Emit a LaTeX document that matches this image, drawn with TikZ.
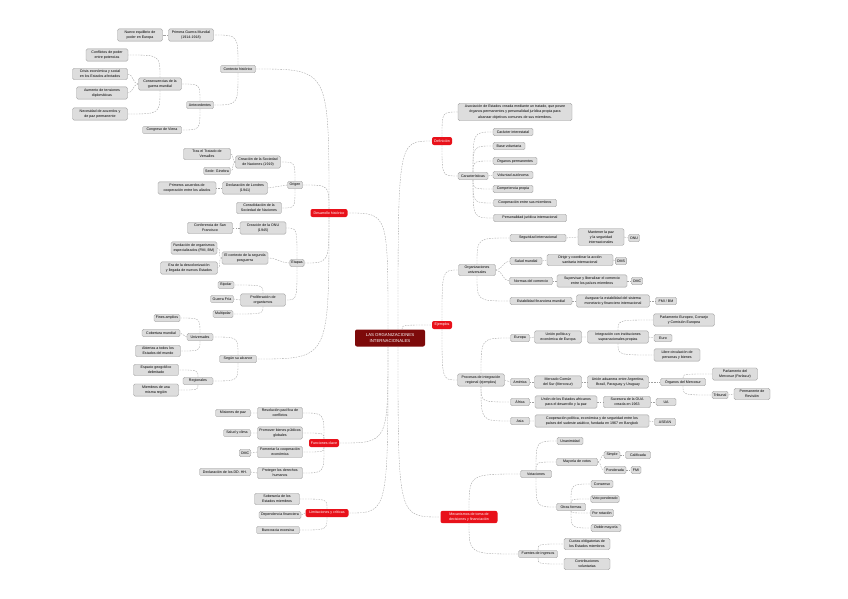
\documentclass[tikz,border=0pt]{standalone}
\usepackage{fontspec}
\setmainfont{Liberation Sans}
\definecolor{rojo}{HTML}{E8111A}
\definecolor{granate}{HTML}{7D0A0A}
\definecolor{fondogris}{HTML}{DDDDDD}
\definecolor{bordegris}{HTML}{9A9A9A}
\definecolor{linea}{HTML}{A0A0A0}
\begin{document}
\begin{tikzpicture}[x=1pt,y=-1pt,
    tema/.style={draw=bordegris, fill=fondogris, line width=0.35pt, rounded corners=1.5pt, align=center,
      inner xsep=1.5pt, inner ysep=1.8pt, minimum height=7.5pt, minimum width=#1, font=\fontsize{3.6}{5.2}\selectfont},
    tema/.default=20pt,
    rama/.style={fill=rojo, text=white, rounded corners=2pt, align=center, inner xsep=1.5pt, inner ysep=1.8pt,
      minimum height=8pt, minimum width=#1, font=\fontsize{3.6}{5.2}\selectfont},
    central/.style={fill=granate, text=white, rounded corners=2pt, align=center, minimum width=70pt,
      minimum height=17pt, font=\fontsize{4.3}{6.2}\selectfont},
    link/.style={draw=linea, line width=0.35pt, dash pattern=on 1.6pt off 1.1pt},
    curva/.style={to path={.. controls (\tikztostart |- \tikztotarget) .. (\tikztotarget)}}]
    \fill[white] (0,0) rectangle (848,599);
    \useasboundingbox (0,0) rectangle (848,599);

    \node[central] (centro) at (390,338) {LAS ORGANIZACIONES\\INTERNACIONALES};
    \node[rama=37pt] (hist) at (329,213) {Desarrollo histórico};
    \node[rama=20pt] (def) at (442,141) {Definición};
    \node[rama=20pt] (ejem) at (442,325) {Ejemplos};
    \node[rama=30pt] (func) at (324,443) {Funciones clave};
    \node[rama=43pt] (lim) at (327,513) {Limitaciones y críticas};
    \node[rama=57pt] (med) at (469,517) {Mecanismos de toma de\\decisiones y financiación};

    \coordinate (cn1) at ([xshift=-2pt]centro.north);
    \coordinate (cn2) at ([xshift=8pt]centro.north);
    \coordinate (cn3) at ([xshift=12pt]centro.north);
    \coordinate (cs1) at ([xshift=-2pt]centro.south);
    \coordinate (cs2) at ([xshift=8pt]centro.south);
    \draw[link] (cn1) to[curva] (hist.east);
    \draw[link] (cn2) to[curva] (def.west);
    \draw[link] (cn3) to[curva] (ejem.west);
    \draw[link] (cs1) to[curva] (func.east);
    \draw[link] (cs1) to[curva] (lim.east);
    \draw[link] (cs2) to[curva] (med.west);

    % desarrollo historico
    \node[tema=35pt] (h1) at (238,69) {Contexto histórico};
    \node[tema=45pt] (h1a) at (191,35) {Primera Guerra Mundial\\(1914-1918)};
    \node[tema=45pt] (h1a1) at (140,35) {Nuevo equilibrio de\\poder en Europa};
    \node[tema=27pt] (h1b) at (200,105) {Antecedentes};
    \node[tema=43pt] (h1b1) at (160,84) {Consecuencias de la\\guerra mundial};
    \node[tema=42pt] (k1) at (107,55) {Conflictos de poder\\entre potencias};
    \node[tema=55pt] (k2) at (100,74) {Crisis económica y social\\en los Estados afectados};
    \node[tema=51pt] (k3) at (102,93) {Aumento de tensiones\\diplomáticas};
    \node[tema=55pt] (k4) at (100,114) {Necesidad de acuerdos y\\de paz permanente};
    \node[tema=39pt] (h1b2) at (162,130) {Congreso de Viena};
    \node[tema=15pt] (h2) at (295,185) {Origen};
    \node[tema=45pt] (h2a) at (258,162) {Creación de la Sociedad\\de Naciones (1919)};
    \node[tema=47pt] (h2a1) at (207,154) {Tras el Tratado de\\Versalles};
    \node[tema=25pt] (h2a2) at (217,171) {Sede: Ginebra};
    \node[tema=45pt] (h2b) at (245,188) {Declaración de Londres\\(1941)};
    \node[tema=58pt] (h2b1) at (187,188) {Primeros acuerdos de\\cooperación entre los aliados};
    \node[tema=45pt] (h2c) at (259,208) {Consolidación de la\\Sociedad de Naciones};
    \node[tema=13pt] (h3) at (297,263) {Etapas};
    \node[tema=46pt] (h3a) at (263,228) {Creación de la ONU\\(1945)};
    \node[tema=45pt] (h3a1) at (210,228) {Conferencia de San\\Francisco};
    \node[tema=46pt] (h3b) at (245,258) {El contexto de la segunda\\posguerra};
    \node[tema=46pt] (h3b1) at (194,248) {Fundación de organismos\\especializados (FMI, BM)};
    \node[tema=57pt] (h3b2) at (189,268) {Era de la descolonización\\y llegada de nuevos Estados};
    \node[tema=45pt] (h3c) at (263,300) {Proliferación de\\organismos};
    \node[tema=16pt] (h3c1) at (226,285) {Bipolar};
    \node[tema=23pt] (h3c2) at (222,299) {Guerra Fría};
    \node[tema=20pt] (h3c3) at (223,314) {Multipolar};
    \node[tema=37pt] (h4) at (238,359) {Según su alcance};
    \node[tema=26pt] (h4a) at (200,337) {Universales};
    \node[tema=26pt] (h4a1) at (167,318) {Fines amplios};
    \node[tema=38pt] (h4a2) at (161,333) {Cobertura mundial};
    \node[tema=45pt] (h4a3) at (158,351) {Abiertas a todos los\\Estados del mundo};
    \node[tema=30pt] (h4b) at (198,381) {Regionales};
    \node[tema=45pt] (h4b1) at (156,370) {Espacio geográfico\\delimitado};
    \node[tema=45pt] (h4b2) at (156,390) {Miembros de una\\misma región};

    \draw[link] (hist.north) to[curva] (h1.east);
    \draw[link] (hist.north) to[curva] (h2.east);
    \draw[link] (hist.south) to[curva] (h3.east);
    \draw[link] (hist.south) to[curva] (h4.east);
    \draw[link] (h1.north) to[curva] (h1a.east);
    \draw[link] (h1a.west) -- (h1a1.east);
    \draw[link] (h1.south) to[curva] (h1b.east);
    \draw[link] (h1b.north) to[curva] (h1b1.east);
    \draw[link] (h1b.south) to[curva] (h1b2.east);
    \draw[link] (h1b1.north) to[curva] (k1.east);
    \draw[link] (h1b1.west) to[out=180,in=0] (k2.east);
    \draw[link] (h1b1.west) to[out=180,in=0] (k3.east);
    \draw[link] (h1b1.south) to[curva] (k4.east);
    \draw[link] (h2.north) to[curva] (h2a.east);
    \draw[link] (h2.west) -- (h2b.east);
    \draw[link] (h2.south) to[curva] (h2c.east);
    \draw[link] (h2a.west) to[out=180,in=0] (h2a1.east);
    \draw[link] (h2a.west) to[out=180,in=0] (h2a2.east);
    \draw[link] (h2b.west) -- (h2b1.east);
    \draw[link] (h3.north) to[curva] (h3a.east);
    \draw[link] (h3.west) to[out=180,in=0] (h3b.east);
    \draw[link] (h3.south) to[curva] (h3c.east);
    \draw[link] (h3a.west) -- (h3a1.east);
    \draw[link] (h3b.west) to[out=180,in=0] (h3b1.east);
    \draw[link] (h3b.west) to[out=180,in=0] (h3b2.east);
    \draw[link] (h3c.north) to[curva] (h3c1.east);
    \draw[link] (h3c.west) -- (h3c2.east);
    \draw[link] (h3c.south) to[curva] (h3c3.east);
    \draw[link] (h4.north) to[curva] (h4a.east);
    \draw[link] (h4.south) to[curva] (h4b.east);
    \draw[link] (h4a.north) to[curva] (h4a1.east);
    \draw[link] (h4a.west) -- (h4a2.east);
    \draw[link] (h4a.south) to[curva] (h4a3.east);
    \draw[link] (h4b.north) to[curva] (h4b1.east);
    \draw[link] (h4b.south) to[curva] (h4b2.east);

    % funciones y limitaciones
    \node[tema=45pt] (f1) at (280,413) {Resolución pacífica de\\conflictos};
    \node[tema=35pt] (f1a) at (233,413) {Misiones de paz};
    \node[tema=45pt] (f2) at (280,433) {Promover bienes públicos\\globales};
    \node[tema=27pt] (f2a) at (237,433) {Salud y clima};
    \node[tema=45pt] (f3) at (280,452) {Fomentar la cooperación\\económica};
    \node[tema=10pt] (f3a) at (245,453) {OMC};
    \node[tema=45pt] (f4) at (280,473) {Proteger los derechos\\humanos};
    \node[tema=51pt] (f4a) at (225,472) {Declaración de los DD. HH.};
    \node[tema=45pt] (l1) at (277,499) {Soberanía de los\\Estados miembros};
    \node[tema=42pt] (l2) at (280,515) {Dependencia financiera};
    \node[tema=43pt] (l3) at (278,530) {Burocracia excesiva};

    \draw[link] (func.north) to[curva] (f1.east);
    \draw[link] (func.north) to[curva] (f2.east);
    \draw[link] (func.south) to[curva] (f3.east);
    \draw[link] (func.south) to[curva] (f4.east);
    \draw[link] (f1.west) -- (f1a.east) (f2.west) -- (f2a.east) (f3.west) -- (f3a.east) (f4.west) -- (f4a.east);
    \draw[link] (lim.north) to[curva] (l1.east);
    \draw[link] (lim.west) -- (l2.east);
    \draw[link] (lim.south) to[curva] (l3.east);

    % definicion
    \node[tema=114pt] (d1) at (515,112) {Asociación de Estados creada mediante un tratado, que posee\\órganos permanentes y personalidad jurídica propia para\\alcanzar objetivos comunes de sus miembros.};
    \node[tema=30pt] (d2) at (473,176) {Características};
    \node[tema=40pt] (c1) at (513,132) {Carácter interestatal};
    \node[tema=32pt] (c2) at (509,146) {Base voluntaria};
    \node[tema=44pt] (c3) at (515,161) {Órganos permanentes};
    \node[tema=40pt] (c4) at (513,175) {Voluntad autónoma};
    \node[tema=40pt] (c5) at (513,189) {Competencia propia};
    \node[tema=63pt] (c6) at (525,203) {Cooperación entre sus miembros};
    \node[tema=73pt] (c7) at (530,218) {Personalidad jurídica internacional};

    \draw[link] (def.north) to[curva] (d1.west);
    \draw[link] (def.south) to[curva] (d2.west);
    \draw[link] (d2.north) to[curva] (c1.west);
    \draw[link] (d2.north) to[curva] (c2.west);
    \draw[link] (d2.north) to[curva] (c3.west);
    \draw[link] (d2.east) -- (c4.west);
    \draw[link] (d2.south) to[curva] (c5.west);
    \draw[link] (d2.south) to[curva] (c6.west);
    \draw[link] (d2.south) to[curva] (c7.west);

    % ejemplos
    \node[tema=37pt] (u0) at (477,270) {Organizaciones\\universales};
    \node[tema=56pt] (u1) at (538,238) {Seguridad internacional};
    \node[tema=46pt] (u1a) at (601,237) {Mantener la paz\\y la seguridad\\internacionales};
    \node[tema=11pt] (u1b) at (634,238) {ONU};
    \node[tema=32pt] (u2) at (526,261) {Salud mundial};
    \node[tema=66pt] (u2a) at (580,260) {Dirigir y coordinar la acción\\sanitaria internacional};
    \node[tema=10pt] (u2b) at (621,261) {OMS};
    \node[tema=43pt] (u3) at (531,281) {Normas del comercio};
    \node[tema=70pt] (u3a) at (592,281) {Supervisar y liberalizar el comercio\\entre los países miembros};
    \node[tema=11pt] (u3b) at (637,281) {OMC};
    \node[tema=62pt] (u4) at (541,301) {Estabilidad financiera mundial};
    \node[tema=73pt] (u4a) at (613,301) {Asegurar la estabilidad del sistema\\monetario y financiero internacional};
    \node[tema=21pt] (u4b) at (666,301) {FMI / BM};

    \node[tema=47pt] (r0) at (481,380) {Procesos de integración\\regional (ejemplos)};
    \node[tema=19pt] (r1) at (520,338) {Europa};
    \node[tema=47pt] (r1a) at (558,337) {Unión política y\\económica de Europa};
    \node[tema=61pt] (r1b) at (618,337) {Integración con instituciones\\supranacionales propias};
    \node[tema=61pt] (r1c1) at (684,320) {Parlamento Europeo, Consejo\\y Comisión Europea};
    \node[tema=18pt] (r1c2) at (663,338) {Euro};
    \node[tema=46pt] (r1c3) at (677,355) {Libre circulación de\\personas y bienes};
    \node[tema=19pt] (r2) at (520,382) {América};
    \node[tema=47pt] (r2a) at (558,382) {Mercado Común\\del Sur (Mercosur)};
    \node[tema=61pt] (r2b) at (618,382) {Unión aduanera entre Argentina,\\Brasil, Paraguay y Uruguay};
    \node[tema=45pt] (r2c) at (683,382) {Órganos del Mercosur};
    \node[tema=45pt] (r2c1) at (735,374) {Parlamento del\\Mercosur (Parlasur)};
    \node[tema=16pt] (r2c2) at (720,395) {Tribunal};
    \node[tema=36pt] (r2c3) at (752,394) {Permanente de\\Revisión};
    \node[tema=19pt] (r3) at (520,402) {África};
    \node[tema=62pt] (r3a) at (566,402) {Unión de los Estados africanos\\para el desarrollo y la paz};
    \node[tema=47pt] (r3b) at (627,402) {Sucesora de la OUA\\creada en 1963};
    \node[tema=20pt] (r3c) at (666,402) {UA};
    \node[tema=19pt] (r4) at (520,421) {Asia};
    \node[tema=114pt] (r4a) at (592,421) {Cooperación política, económica y de seguridad entre los\\países del sudeste asiático, fundada en 1967 en Bangkok};
    \node[tema=21pt] (r4b) at (665,422) {ASEAN};

    \draw[link] (ejem.north) to[curva] (u0.west);
    \draw[link] (ejem.south) to[curva] (r0.west);
    \draw[link] (u0.north) to[curva] (u1.west);
    \draw[link] (u0.east) to[out=0,in=180] (u2.west);
    \draw[link] (u0.east) to[out=0,in=180] (u3.west);
    \draw[link] (u0.south) to[curva] (u4.west);
    \draw[link] (u1.east) -- (u1a.west) (u1a.east) -- (u1b.west);
    \draw[link] (u2.east) -- (u2a.west) (u2a.east) -- (u2b.west);
    \draw[link] (u3.east) -- (u3a.west) (u3a.east) -- (u3b.west);
    \draw[link] (u4.east) -- (u4a.west) (u4a.east) -- (u4b.west);
    \draw[link] (r0.north) to[curva] (r1.west);
    \draw[link] (r0.east) -- (r2.west);
    \draw[link] (r0.south) to[curva] (r3.west);
    \draw[link] (r0.south) to[curva] (r4.west);
    \draw[link] (r1.east) -- (r1a.west) (r1a.east) -- (r1b.west);
    \draw[link] (r1b.north) to[curva] (r1c1.west);
    \draw[link] (r1b.east) -- (r1c2.west);
    \draw[link] (r1b.south) to[curva] (r1c3.west);
    \draw[link] (r2.east) -- (r2a.west) (r2a.east) -- (r2b.west) (r2b.east) -- (r2c.west);
    \draw[link] (r2c.north) to[curva] (r2c1.west);
    \draw[link] (r2c.south) to[curva] (r2c2.west);
    \draw[link] (r2c2.east) -- (r2c3.west);
    \draw[link] (r3.east) -- (r3a.west) (r3a.east) -- (r3b.west) (r3b.east) -- (r3c.west);
    \draw[link] (r4.east) -- (r4a.west) (r4a.east) -- (r4b.west);

    % mecanismos
    \node[tema=31pt] (m1) at (536,474) {Votaciones};
    \node[tema=26pt] (m1a) at (570,441) {Unanimidad};
    \node[tema=41pt] (m1b) at (577,462) {Mayoría de votos};
    \node[tema=16pt] (m1b1) at (612,455) {Simple};
    \node[tema=25pt] (m1b1a) at (638,455) {Calificada};
    \node[tema=22pt] (m1b2) at (615,470) {Ponderada};
    \node[tema=10pt] (m1b2a) at (636,470) {FMI};
    \node[tema=29pt] (m1c) at (571,507) {Otras formas};
    \node[tema=22pt] (m1c1) at (602,484) {Consenso};
    \node[tema=28pt] (m1c2) at (605,499) {Voto ponderado};
    \node[tema=23pt] (m1c3) at (602,513) {Por rotación};
    \node[tema=30pt] (m1c4) at (606,528) {Doble mayoría};
    \node[tema=39pt] (m2) at (538,554) {Fuentes de ingresos};
    \node[tema=46pt] (m2a) at (587,544) {Cuotas obligatorias de\\los Estados miembros};
    \node[tema=46pt] (m2b) at (587,564) {Contribuciones\\voluntarias};

    \draw[link] (med.north) to[curva] (m1.west);
    \draw[link] (med.south) to[curva] (m2.west);
    \draw[link] (m1.north) to[curva] (m1a.west);
    \draw[link] (m1.north) to[curva] (m1b.west);
    \draw[link] (m1.south) to[curva] (m1c.west);
    \draw[link] (m1b.east) to[out=0,in=180] (m1b1.west);
    \draw[link] (m1b.east) to[out=0,in=180] (m1b2.west);
    \draw[link] (m1b1.east) -- (m1b1a.west) (m1b2.east) -- (m1b2a.west);
    \draw[link] (m1c.north) to[curva] (m1c1.west);
    \draw[link] (m1c.north) to[curva] (m1c2.west);
    \draw[link] (m1c.south) to[curva] (m1c3.west);
    \draw[link] (m1c.south) to[curva] (m1c4.west);
    \draw[link] (m2.north) to[curva] (m2a.west);
    \draw[link] (m2.south) to[curva] (m2b.west);
\end{tikzpicture}
\end{document}
